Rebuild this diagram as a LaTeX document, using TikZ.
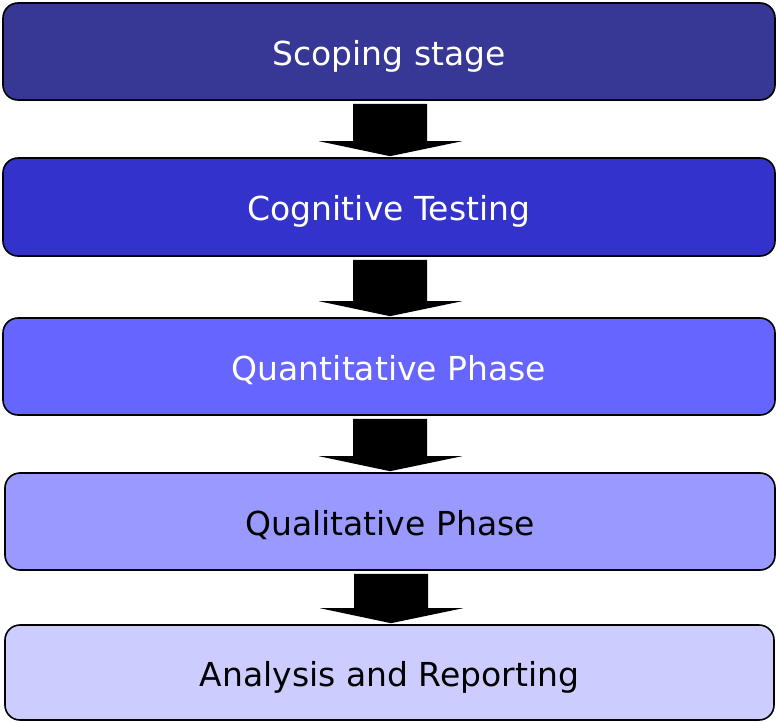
\documentclass[tikz,border=0pt]{standalone}
\usepackage{fontspec}
\setmainfont{DejaVu Sans}
\usetikzlibrary{calc}
\definecolor{cA}{RGB}{55,55,150}
\definecolor{cB}{RGB}{51,51,204}
\definecolor{cC}{RGB}{102,102,255}
\definecolor{cD}{RGB}{153,153,255}
\definecolor{cE}{RGB}{204,204,255}
\tikzset{
  stagebox/.style={draw=black, line width=1.6pt, rounded corners=15pt, inner sep=0pt,
    minimum width=772pt, minimum height=97pt, text height=28pt, text depth=0pt,
    font=\fontsize{33}{38}\selectfont},
  blockarrow/.style={fill=black, draw=none}
}
\newcommand\blockarr[2]{%
  \path[blockarrow] let \p1=(#1.south), \p2=(#2.north) in
    (\x1-36pt,\y1-3pt) -- (\x1+38pt,\y1-3pt) -- (\x1+38pt,\y2+16pt) -- (\x1+73pt,\y2+16pt)
    -- (\x1+1pt,\y2+1pt) -- (\x1-70pt,\y2+16pt) -- (\x1-36pt,\y2+16pt) -- cycle;}
\begin{document}
\begin{tikzpicture}[x=1pt,y=-1pt]
\useasboundingbox (0,0) rectangle (776,722);
\node[stagebox, fill=cA, text=white] (b1) at (389,51.5) {Scoping stage};
\node[stagebox, fill=cB, text=white, minimum height=98pt] (b2) at (389,207) {Cognitive Testing};
\node[stagebox, fill=cC, text=white] (b3) at (389,366.5) {Quantitative Phase};
\node[stagebox, fill=cD, text=black, minimum width=770pt] (b4) at (390,521.5) {Qualitative Phase};
\node[stagebox, fill=cE, text=black, minimum width=769pt, minimum height=95pt] (b5) at (389.5,672.5) {Analysis and Reporting};
\blockarr{b1}{b2}
\blockarr{b2}{b3}
\blockarr{b3}{b4}
\blockarr{b4}{b5}
\end{tikzpicture}
\end{document}
